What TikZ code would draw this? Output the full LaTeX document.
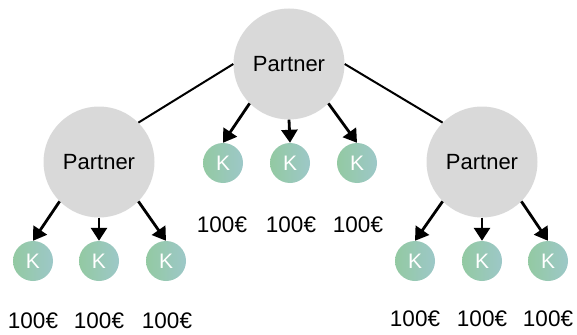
\documentclass[tikz,border=0pt]{standalone}
\usepackage{fontspec}
\setmainfont{Liberation Sans}
\usetikzlibrary{arrows.meta}
\definecolor{pgray}{HTML}{D9D9D9}
\definecolor{kleft}{HTML}{93C9A2}
\definecolor{kright}{HTML}{9DC8C8}
\begin{document}
\begin{tikzpicture}[x=1pt,y=-1pt,
  partner/.style={circle,fill=pgray,minimum size=111pt,inner sep=0pt,font=\fontsize{22}{26}\selectfont},
  kund/.style={circle,left color=kleft,right color=kright,minimum size=40pt,inner sep=0pt,text=white,font=\fontsize{21}{24}\selectfont},
  price/.style={inner sep=0pt,font=\fontsize{22.5}{26}\selectfont},
  link/.style={line width=2pt},
  arr/.style={line width=2.8pt,-{Triangle[length=13pt,width=16pt]}}]
\useasboundingbox (0,0) rectangle (577,334);
\node[partner] (pt) at (289,64) {Partner};
\node[partner] (pl) at (99,162) {Partner};
\node[partner] (pr) at (482,162) {Partner};
\node[kund] (k1) at (223,163) {K};
\node[kund] (k2) at (290,163) {K};
\node[kund] (k3) at (357,163) {K};
\node[kund] (k4) at (33,261) {K};
\node[kund] (k5) at (99,261) {K};
\node[kund] (k6) at (166,261) {K};
\node[kund] (k7) at (415,261) {K};
\node[kund] (k8) at (482,261) {K};
\node[kund] (k9) at (548,261) {K};
\node[price] (p1) at (222,225) {100€};
\node[price] (p2) at (291,225) {100€};
\node[price] (p3) at (358,225) {100€};
\node[price] (p4) at (33,321) {100€};
\node[price] (p5) at (99,321) {100€};
\node[price] (p6) at (167,321) {100€};
\node[price] (p7) at (415,319) {100€};
\node[price] (p8) at (482,319) {100€};
\node[price] (p9) at (548,319) {100€};
\draw[link] (pt.west) -- (pl.north east);
\draw[link] (pt.east) -- (pr.north west);
\foreach \p/\k in {pt/k1,pl/k4,pr/k7}
  \draw[arr] (\p.south west) -- (\k.north);
\foreach \p/\k in {pt/k2,pl/k5,pr/k8}
  \draw[arr] (\p.south) -- (\k.north);
\foreach \p/\k in {pt/k3,pl/k6,pr/k9}
  \draw[arr] (\p.south east) -- (\k.north);
\end{tikzpicture}
\end{document}
